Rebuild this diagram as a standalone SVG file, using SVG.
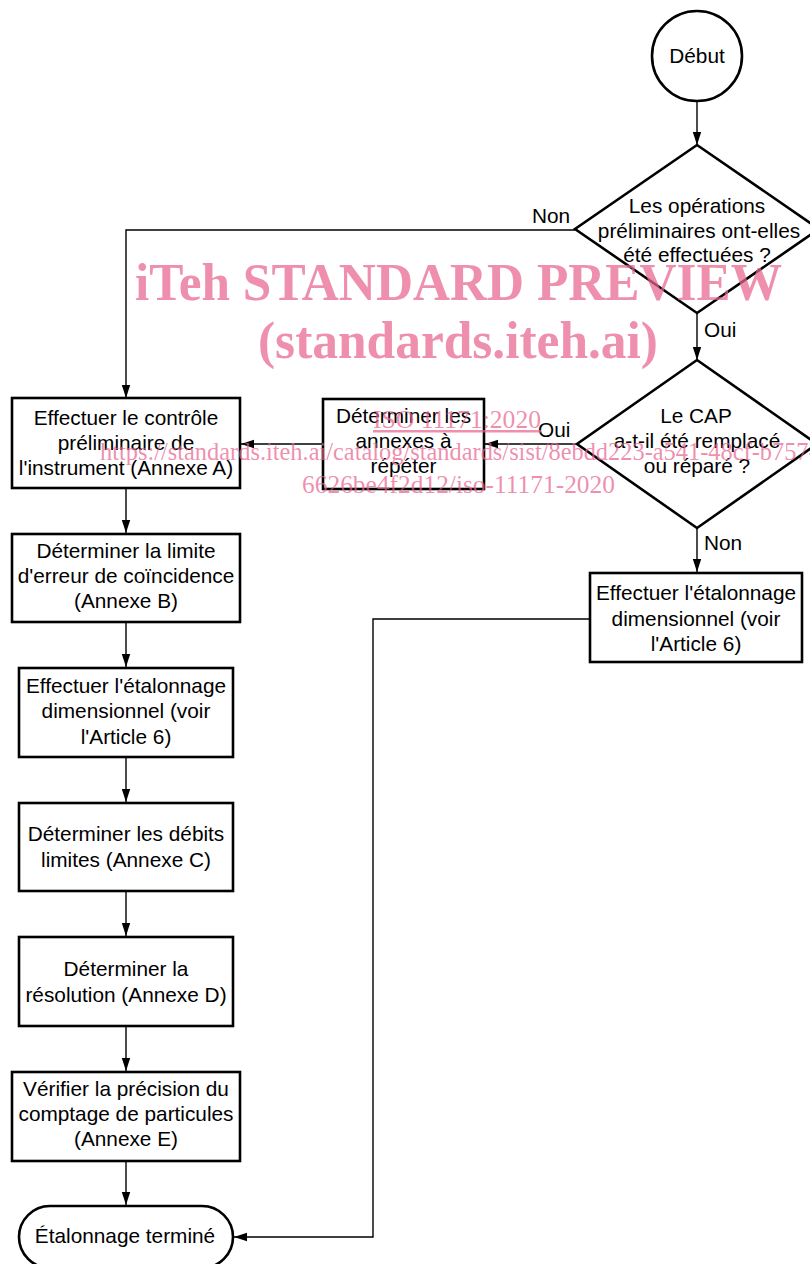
<svg xmlns="http://www.w3.org/2000/svg" width="810" height="1264" viewBox="0 0 810 1264">
<style>
.shape{fill:#fff;stroke:#000;stroke-width:2.6}
.conn{fill:none;stroke:#000;stroke-width:1.4}
.t{font-family:"Liberation Sans",Arial,sans-serif;font-size:20.8px;fill:#000;text-anchor:middle}
.lbl{font-family:"Liberation Sans",Arial,sans-serif;font-size:20.8px;fill:#000}
.wm{font-family:"Liberation Serif","Times New Roman",serif;fill:#e9648f;fill-opacity:0.72}
</style>
<defs>
<marker id="arr" markerUnits="userSpaceOnUse" markerWidth="14" markerHeight="10" refX="13" refY="5" orient="auto">
<path d="M0,0.8 L13,5 L0,9.2 Z" fill="#000"/>
</marker>
</defs>
<rect width="810" height="1264" fill="#fff"/>
<g id="connectors">
<path class="conn" d="M697,102 V145" marker-end="url(#arr)"/>
<path class="conn" d="M575,230 H126 V398" marker-end="url(#arr)"/>
<path class="conn" d="M697,313 V360" marker-end="url(#arr)"/>
<path class="conn" d="M577,444 H485" marker-end="url(#arr)"/>
<path class="conn" d="M323,444 H241" marker-end="url(#arr)"/>
<path class="conn" d="M697,528 V572" marker-end="url(#arr)"/>
<path class="conn" d="M590,619 H373 V1237 H234" marker-end="url(#arr)"/>
<path class="conn" d="M126,488 V533" marker-end="url(#arr)"/>
<path class="conn" d="M126,622 V667" marker-end="url(#arr)"/>
<path class="conn" d="M126,757 V802" marker-end="url(#arr)"/>
<path class="conn" d="M126,891 V936" marker-end="url(#arr)"/>
<path class="conn" d="M126,1026 V1071" marker-end="url(#arr)"/>
<path class="conn" d="M126,1161 V1205" marker-end="url(#arr)"/>
<text class="lbl" x="532" y="223">Non</text>
<text class="lbl" x="704" y="337">Oui</text>
<text class="lbl" x="538" y="437">Oui</text>
<text class="lbl" x="704" y="550">Non</text>
</g>
<g id="debut">
<circle class="shape" cx="697" cy="56" r="45"/>
<text class="t" x="697" y="63">Début</text>
</g>
<g id="decision1">
<polygon class="shape" points="697,145 819,229 697,313 575,229"/>
<text class="t" x="697" y="213">Les opérations</text>
<text class="t" x="699" y="238">préliminaires ont-elles</text>
<text class="t" x="697" y="262">été effectuées ?</text>
</g>
<g id="decision2">
<polygon class="shape" points="697,360 817,444 697,528 577,444"/>
<text class="t" x="696" y="423">Le CAP</text>
<text class="t" x="697" y="448">a-t-il été remplacé</text>
<text class="t" x="697" y="473">ou réparé ?</text>
</g>
<g id="annexes">
<rect class="shape" x="323" y="399" width="161" height="90"/>
<text class="t" x="403.5" y="423">Déterminer les</text>
<text class="t" x="403.5" y="448">annexes à</text>
<text class="t" x="403.5" y="473">répéter</text>
</g>
<g id="etalonnage-droite">
<rect class="shape" x="590" y="573" width="212" height="89"/>
<text class="t" x="696" y="600">Effectuer l'étalonnage</text>
<text class="t" x="696" y="625.5">dimensionnel (voir</text>
<text class="t" x="696" y="651">l'Article 6)</text>
</g>
<g id="boxA">
<rect class="shape" x="12" y="398" width="228" height="90"/>
<text class="t" x="126" y="425">Effectuer le contrôle</text>
<text class="t" x="126" y="450">préliminaire de</text>
<text class="t" x="126" y="475">l'instrument (Annexe A)</text>
</g>
<g id="boxB">
<rect class="shape" x="12" y="534" width="228" height="88"/>
<text class="t" x="126" y="558">Déterminer la limite</text>
<text class="t" x="126" y="583">d'erreur de coïncidence</text>
<text class="t" x="126" y="608">(Annexe B)</text>
</g>
<g id="boxC">
<rect class="shape" x="19" y="668" width="214" height="89"/>
<text class="t" x="126" y="693">Effectuer l'étalonnage</text>
<text class="t" x="126" y="718">dimensionnel (voir</text>
<text class="t" x="126" y="743.5">l'Article 6)</text>
</g>
<g id="boxD">
<rect class="shape" x="19" y="803" width="214" height="88"/>
<text class="t" x="126" y="841">Déterminer les débits</text>
<text class="t" x="126" y="866.5">limites (Annexe C)</text>
</g>
<g id="boxE">
<rect class="shape" x="19" y="937" width="214" height="89"/>
<text class="t" x="126" y="976">Déterminer la</text>
<text class="t" x="126" y="1001.5">résolution (Annexe D)</text>
</g>
<g id="boxF">
<rect class="shape" x="12" y="1072" width="228" height="89"/>
<text class="t" x="126" y="1096">Vérifier la précision du</text>
<text class="t" x="126" y="1121">comptage de particules</text>
<text class="t" x="126" y="1146">(Annexe E)</text>
</g>
<g id="fin">
<rect class="shape" x="19" y="1206" width="214" height="62" rx="31"/>
<text class="t" x="125" y="1243">Étalonnage terminé</text>
</g>
<g id="watermark">
<text class="wm" x="135" y="300" font-size="53" font-weight="bold" textLength="647" lengthAdjust="spacingAndGlyphs">iTeh STANDARD PREVIEW</text>
<text class="wm" x="258" y="358" font-size="53" font-weight="bold" textLength="400" lengthAdjust="spacingAndGlyphs">(standards.iteh.ai)</text>
<text class="wm" x="373" y="428" font-size="25" text-decoration="underline" textLength="168" lengthAdjust="spacingAndGlyphs">ISO 11171:2020</text>
<text class="wm" x="100" y="460" font-size="24.4">https://standards.iteh.ai/catalog/standards/sist/8ebdd223-a541-48cf-b757-</text>
<text class="wm" x="302" y="493" font-size="25" textLength="313" lengthAdjust="spacingAndGlyphs">6626be4f2d12/iso-11171-2020</text>
</g>
</svg>
